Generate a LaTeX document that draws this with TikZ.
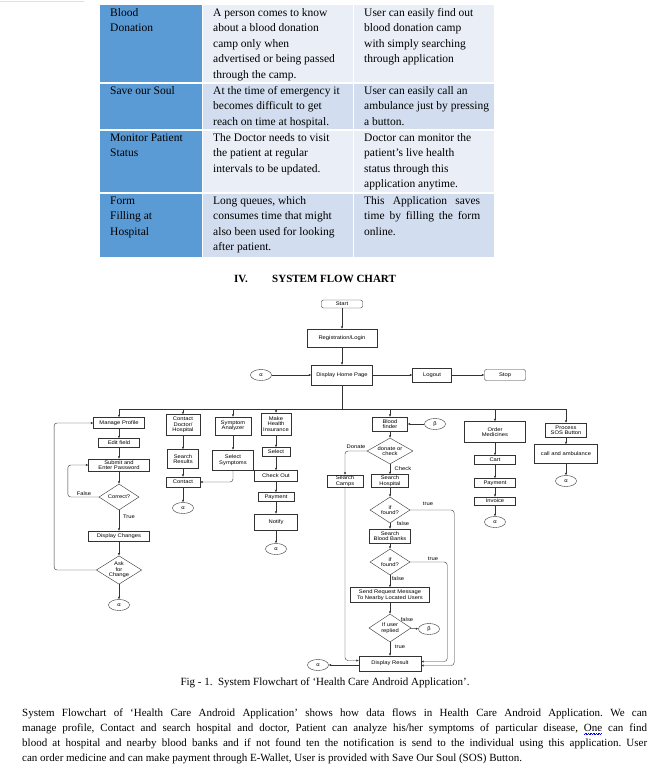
\documentclass[tikz,border=0pt]{standalone}
\usepackage{fontspec}
\setmainfont{Liberation Serif}
\newfontfamily\chartfont[FakeStretch=1.12]{Liberation Sans}
\usetikzlibrary{shapes.geometric,arrows.meta}
\definecolor{cellhead}{HTML}{5B9BD5}
\definecolor{cellpale}{HTML}{E9EEF7}
\definecolor{celldark}{HTML}{D2DEEF}
\newcommand{\tabtext}{\fontsize{11.5}{15.6}\selectfont}
\newcommand{\bodytext}{\fontsize{11}{15}\selectfont\frenchspacing}
\newcommand{\charttext}{\chartfont\fontsize{5.2}{5.4}\selectfont}
\newsavebox\wavebox
\newcommand{\spellwave}[1]{\sbox\wavebox{#1}\rlap{\color{blue}\hbox to \wd\wavebox{\leaders\hbox{\rule[-3.4pt]{0.8pt}{0.5pt}\rule[-2.7pt]{0.8pt}{0.5pt}}\hfill}}#1}

\begin{document}
\begin{tikzpicture}[x=1pt,y=-1pt,
  proc/.style={draw=black!80,line width=0.4pt,fill=white,inner sep=0pt,align=center,font=\charttext},
  term/.style={proc,rounded corners=2pt},
  decide/.style={diamond,shape aspect=1.6,draw=black!80,line width=0.4pt,fill=white,inner sep=0pt,align=center,font=\charttext,minimum width=40pt,minimum height=26pt},
  conn/.style={ellipse,draw=black!80,line width=0.4pt,inner sep=0pt,minimum width=21pt,minimum height=11pt,font=\charttext},
  flow/.style={draw=black!80,line width=0.4pt,-{Latex[length=2.4pt,width=2.2pt]}},
  lbl/.style={font=\charttext,inner sep=0pt},
  cell/.style={anchor=north west,inner sep=0pt,align=left,font=\tabtext}]
\fill[white] (0,0) rectangle (664,774);
\useasboundingbox (0,0) rectangle (664,774);
\draw[black!12,line width=1pt] (0,1) -- (84,1);

\fill[cellhead] (100,5) rectangle (202,257);
\foreach \top/\bot/\col in {5/83/cellpale,83/130/celldark,130/193/cellpale,193/257/celldark}
  \fill[\col] (203,\top) rectangle (494,\bot);
\foreach \yy in {83,130,193}
  \draw[white,line width=1.2pt] (100,\yy) -- (494,\yy);
\draw[white,line width=1pt] (353.5,5) -- (353.5,257);

\node[cell] (c11) at (110,5) {\strut Blood\\Donation};
\node[cell] (c12) at (213,5) {\strut A person comes to know\\about a blood donation\\camp only when\\advertised or being passed\\through the camp.};
\node[cell] (c13) at (364,5) {\strut User can easily find out\\blood donation camp\\with simply searching\\through application};
\node[cell] (c21) at (110,83) {\strut Save our Soul};
\node[cell] (c22) at (213,83) {\strut At the time of emergency it\\becomes difficult to get\\reach on time at hospital.};
\node[cell] (c23) at (364,83) {\strut User can easily call an\\ambulance just by pressing\\a button.};
\node[cell] (c31) at (110,130) {\strut Monitor Patient\\Status};
\node[cell] (c32) at (213,130) {\strut The Doctor needs to visit\\the patient at regular\\intervals to be updated.};
\node[cell] (c33) at (364,130) {\strut Doctor can monitor the\\patient’s live health\\status through this\\application anytime.};
\node[cell] (c41) at (110,193) {\strut Form\\Filling at\\Hospital};
\node[cell] (c42) at (213,193) {\strut Long queues, which\\consumes time that might\\also been used for looking\\after patient.};
\node[cell] (c43) at (364,193) {\strut\makebox[116pt][s]{This Application saves}\\\makebox[116pt][s]{time by filling the form}\\online.};

\node[anchor=base west,inner sep=0pt,font=\bfseries\bodytext] (heading) at (234,282) {\makebox[38pt][l]{IV.}SYSTEM FLOW CHART};

\node[term,minimum width=41pt,minimum height=8pt] (start) at (342,304) {Start};
\node[proc,minimum width=70pt,minimum height=18pt] (reg) at (342,338) {Registration/Login};
\node[proc,minimum width=61pt,minimum height=20pt] (home) at (342,375) {Display Home Page};
\node[conn] (alpha0) at (261,375) {α};
\node[proc,minimum width=39pt,minimum height=14pt] (logout) at (432,375) {Logout};
\node[term,minimum width=41pt,minimum height=11pt] (stop) at (505,375) {Stop};

\node[proc,minimum width=51pt,minimum height=11pt] (manage) at (119,423) {Manage Profile};
\node[proc,minimum width=41pt,minimum height=9pt] (edit) at (119,443) {Edit field};
\node[proc,minimum width=61pt,minimum height=12pt] (submit) at (119,465) {Submit and\\Enter Password};
\node[decide] (correct) at (119,497) {Correct?};
\node[proc,minimum width=61pt,minimum height=10pt] (dispch) at (119,536) {Display Changes};
\node[decide] (ask) at (119,570) {Ask\\for\\Change};
\node[conn] (alpha1) at (119,605) {α};

\node[proc,minimum width=34pt,minimum height=21pt] (condoc) at (183,425) {Contact\\Doctor/\\Hospital};
\node[proc,minimum width=31pt,minimum height=19pt] (results) at (183,459) {Search\\Results};
\node[proc,minimum width=34pt,minimum height=10pt] (contact) at (183,482) {Contact};
\node[conn] (alpha2) at (183,508) {α};

\node[proc,minimum width=36pt,minimum height=18pt] (symp) at (233,426) {Symptom\\Analyzer};
\node[proc,minimum width=41pt,minimum height=20pt] (selsym) at (233,460) {Select\\Symptoms};

\node[proc,minimum width=30pt,minimum height=22pt] (insure) at (276,424) {Make\\Health\\Insurance};
\node[proc,minimum width=28pt,minimum height=9pt] (select) at (276,452) {Select};
\node[proc,minimum width=43pt,minimum height=11pt] (checkout) at (276,476) {Check Out};
\node[proc,minimum width=36pt,minimum height=9pt] (payone) at (276,497) {Payment};
\node[proc,minimum width=43pt,minimum height=16pt] (notify) at (276,522) {Notify};
\node[conn] (alpha3) at (276,549) {α};

\node[proc,minimum width=35pt,minimum height=14pt] (blood) at (390,424) {Blood\\finder};
\node[conn] (beta0) at (435,424) {β};
\node[decide,minimum width=46pt,minimum height=26pt] (donate) at (390,451) {donate or\\check};
\node[proc,minimum width=36pt,minimum height=12pt] (camps) at (345,481) {Search\\Camps};
\node[proc,minimum width=37pt,minimum height=13pt] (hosp) at (390,481) {Search\\Hospital};
\node[decide] (foundone) at (390,510) {if\\found?};
\node[proc,minimum width=41pt,minimum height=14pt] (banks) at (390,536) {Search\\Blood Banks};
\node[decide] (foundtwo) at (390,562) {if\\found?};
\node[proc,minimum width=79pt,minimum height=15pt] (sendreq) at (390,595) {Send Request Message\\To Nearby Located Users};
\node[decide,minimum width=42pt,minimum height=28pt] (replied) at (390,628) {If user\\replied};
\node[conn] (beta1) at (429,629) {β};
\node[proc,minimum width=62pt,minimum height=15pt] (result) at (390,663.5) {Display Result};
\node[conn] (alpha4) at (318,665) {α};

\node[proc,minimum width=61pt,minimum height=21pt] (order) at (495,432) {Order\\Medicines};
\node[proc,minimum width=41pt,minimum height=9pt] (cart) at (495,460) {Cart};
\node[proc,minimum width=41pt,minimum height=9pt] (paytwo) at (495,483) {Payment};
\node[proc,minimum width=41pt,minimum height=8pt] (invoice) at (495,501) {Invoice};
\node[conn] (alpha5) at (495,522) {α};

\node[proc,minimum width=41pt,minimum height=14pt] (sos) at (566,430) {Process\\SOS Button};
\node[proc,minimum width=63pt,minimum height=19pt] (ambul) at (566,454) {call and ambulance};
\node[conn] (alpha6) at (566,481) {α};

\foreach \a/\b in {start/reg,reg/home,alpha0/home,home/logout,logout/stop,
  manage/edit,edit/submit,submit/correct,correct/dispch,dispch/ask,ask/alpha1,
  condoc/results,results/contact,contact/alpha2,symp/selsym,
  insure/select,select/checkout,checkout/payone,payone/notify,notify/alpha3,
  beta0/blood,blood/donate,donate/hosp,hosp/foundone,foundone/banks,banks/foundtwo,
  foundtwo/sendreq,sendreq/replied,replied/beta1,replied/result,
  order/cart,cart/paytwo,paytwo/invoice,invoice/alpha5,sos/ambul,ambul/alpha6}
  \draw[flow] (\a) -- (\b);
\foreach \n in {manage,condoc,symp,insure,blood,order,sos}
  \draw[flow] (home.south) -- ++(0,24) -| (\n);

\draw[flow,rounded corners=3pt] (correct.west) -- ++(-31,0) |- (submit.west);
\draw[flow,rounded corners=3pt] (ask.west) -- ++(-42,0) |- (manage.west);
\draw[flow,rounded corners=3pt] (selsym.south) |- (contact.east);
\draw[flow,rounded corners=3pt] (donate.west) -| (camps.north);
\draw[flow,rounded corners=3pt] (camps.south) |- ([yshift=3pt]result.west);
\draw[flow,rounded corners=3pt] (foundone.east) -- ++(44,0) |- ([yshift=-2pt]result.east);
\draw[flow,rounded corners=3pt] (foundtwo.east) -- ++(37,0) |- ([yshift=2pt]result.east);
\draw[flow] ([yshift=-1.5pt]result.west) -- (alpha4.east);

\node[lbl] (lfalse) at (84,494) {False};
\node[lbl] (ltrue) at (129,517) {True};
\node[lbl] (ldonate) at (356,447) {Donate};
\node[lbl] (lcheck) at (403,469) {Check};
\node[lbl] (ltrueone) at (428,504) {true};
\node[lbl] (lfalseone) at (403,524) {false};
\node[lbl] (ltruetwo) at (433,559) {true};
\node[lbl] (lfalsetwo) at (398,579) {false};
\node[lbl] (lfalsethree) at (407,620) {false};
\node[lbl] (ltruethree) at (400,647) {true};

\node[anchor=base,inner sep=0pt,font=\bodytext] (caption) at (325,685) {Fig - 1.\ \ System Flowchart of ‘Health Care Android Application’.};
\node[anchor=north west,inner sep=0pt,align=left,font=\bodytext] (para) at (22,705.5) {\strut\makebox[625pt][s]{System Flowchart of ‘Health Care Android Application’ shows how data flows in Health Care Android Application. We can}\\
\makebox[625pt][s]{manage profile, Contact and search hospital and doctor, Patient can analyze his/her symptoms of particular disease, \spellwave{One} can find}\\
\makebox[625pt][s]{blood at hospital and nearby blood banks and if not found ten the notification is send to the individual using this application. User}\\
can order medicine and can make payment through E-Wallet, User is provided with Save Our Soul (SOS) Button.};
\end{tikzpicture}
\end{document}
